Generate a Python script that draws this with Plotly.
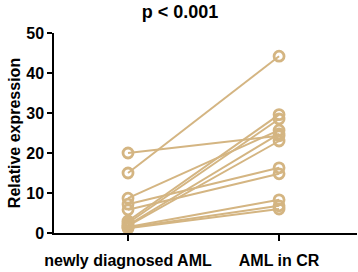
import plotly.graph_objects as go

categories = ["newly diagnosed AML", "AML in CR"]
newly_diagnosed = [20.0, 15.0, 8.7, 7.2, 5.8, 3.0, 2.5, 2.0, 1.8, 1.5, 1.3, 1.2]
in_cr = [24.3, 44.2, 25.7, 16.3, 14.8, 29.6, 28.5, 24.8, 23.0, 8.3, 6.8, 6.0]
y_ticks = [0, 10, 20, 30, 40, 50]

color = "#D4B582"
font_family = "Liberation Sans, Arial, sans-serif"

fig = go.Figure()
for a, b in zip(newly_diagnosed, in_cr):
    fig.add_trace(go.Scatter(
        x=[0, 1], y=[a, b], mode="lines+markers",
        line=dict(color=color, width=2),
        marker=dict(symbol="circle-open", size=10, color=color, line=dict(width=2.8, color=color)),
        showlegend=False, hoverinfo="skip",
    ))

fig.update_layout(
    width=358, height=272,
    margin=dict(l=54, r=1, t=33, b=39),
    paper_bgcolor="white", plot_bgcolor="white",
    title=dict(text="p < 0.001", x=0.503, xanchor="center", yref="container", y=0.958, yanchor="middle",
               font=dict(family=font_family, size=18, color="black", weight="bold")),
    font=dict(family=font_family, color="black"),
)
fig.update_xaxes(
    range=[-0.49, 1.516], tickmode="array", tickvals=[0, 1], ticktext=categories,
    showline=True, linecolor="black", linewidth=1.5, ticks="outside", ticklen=6,
    tickwidth=1.5, tickcolor="black", showgrid=False, zeroline=False,
    tickfont=dict(size=16, weight="bold"), ticklabelstandoff=6, automargin=False,
)
fig.update_yaxes(
    range=[0, 50], tickmode="array", tickvals=y_ticks,
    showline=True, linecolor="black", linewidth=1.5, ticks="outside", ticklen=5,
    tickwidth=1.5, tickcolor="black", showgrid=False, zeroline=False,
    tickfont=dict(size=16, weight="bold"), automargin=False,
    title=dict(text="Relative expression", font=dict(size=16, weight="bold"), standoff=2),
)
fig.write_html("out.html", config={"displayModeBar": False},
               post_script="document.body.style.margin='0';")
